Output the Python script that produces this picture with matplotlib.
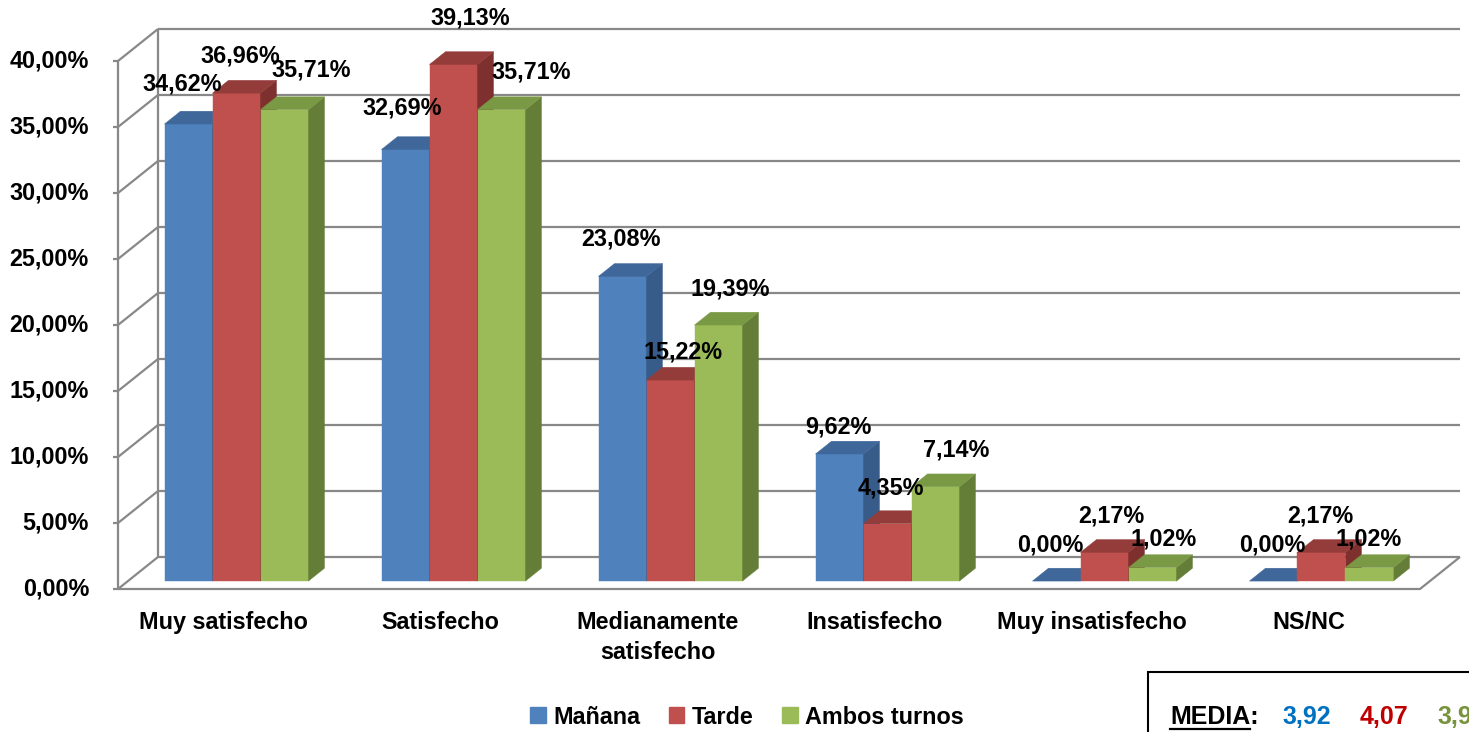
import matplotlib.pyplot as plt
from matplotlib.patches import Polygon, Rectangle, Patch
from matplotlib.lines import Line2D

plt.rcParams['font.family'] = ['Liberation Sans', 'DejaVu Sans']
plt.rcParams['font.weight'] = 'bold'

# data
categories = ["Muy satisfecho", "Satisfecho", "Medianamente\nsatisfecho",
              "Insatisfecho", "Muy insatisfecho", "NS/NC"]
series = ["Mañana", "Tarde", "Ambos turnos"]
manana = [34.62, 32.69, 23.08, 9.62, 0.00, 0.00]
tarde = [36.96, 39.13, 15.22, 4.35, 2.17, 2.17]
ambos = [35.71, 35.71, 19.39, 7.14, 1.02, 1.02]
yticks = [0, 5, 10, 15, 20, 25, 30, 35, 40]
media_values = ["3,92", "4,07", "3,9"]

# look
front_cols = ['#4F81BD', '#C0504D', '#9BBB59']
top_cols = ['#40679A', '#933C3A', '#7A9944']
side_cols = ['#375C8A', '#7E302E', '#657E37']
media_cols = ['#0070C0', '#C00000', '#77933C']
grid_col = '#888888'
fs = 16.8

# label offsets (pixels) from the top of each bar, per group: blue, red, green
label_offsets = [
    [(-6, 40), (4, 37), (27, 40)],
    [(-3, 41), (17, 46), (30, 38)],
    [(-2, 37), (13, 28), (12, 36)],
    [(-1, 27), (3, 36), (21, 37)],
    [(-6, 36), (7, 36), (11, 29)],
    [(-1, 36), (-1, 36), (-1, 29)],
]

W, H = 1469, 732
PX, PY = 217.0, 13.2        # pixels per category / per percent
X0, Y0 = 226.5, 589.0       # pixel of (0, 0) on the front plane

fig = plt.figure(figsize=(W / 100, H / 100), dpi=100)
ax = fig.add_axes([0, 0, 1, 1])
ax.set_xlim(-X0 / PX, (W - X0) / PX)
ax.set_ylim(-(H - Y0) / PY, Y0 / PY)
ax.axis('off')

ddx, ddy = 40 / PX, 32 / PY   # full depth of the box
left, right = -0.5, len(categories) - 0.5

# walls / grid
kw = dict(color=grid_col, lw=1.6, zorder=1, solid_capstyle='butt')
for t in yticks:
    ax.plot([left, left + ddx], [t, t + ddy], **kw)
    ax.plot([left + ddx, right + ddx], [t + ddy, t + ddy], **kw)
    ax.plot([left - 5 / PX, left], [t, t], **kw)
    ax.text(left - 29 / PX, t, f"{t:.2f}%".replace('.', ','), ha='right',
            va='center', fontsize=fs)
ax.plot([left, left], [0, yticks[-1]], **kw)
ax.plot([left + ddx, left + ddx], [ddy, yticks[-1] + ddy], **kw)
ax.plot([left, right, right + ddx], [0, 0, ddy], **kw)

# bars
w = 48 / PX
f0, f1 = 0.25, 0.65
bdx, bdy = (f1 - f0) * ddx, (f1 - f0) * ddy
values = [manana, tarde, ambos]
for g in range(len(categories)):
    for s in range(3):
        v = values[s][g]
        x0 = g - 1.5 * w + s * w + f0 * ddx
        y0 = f0 * ddy
        z = 2 + g * 3 + s
        ax.add_patch(Rectangle((x0, y0), w, v, facecolor=front_cols[s],
                               edgecolor=front_cols[s], lw=0.3, zorder=z))
        ax.add_patch(Polygon([(x0 + w, y0), (x0 + w + bdx, y0 + bdy),
                              (x0 + w + bdx, y0 + v + bdy), (x0 + w, y0 + v)],
                             facecolor=side_cols[s], edgecolor=side_cols[s],
                             lw=0.3, zorder=z))
        ax.add_patch(Polygon([(x0, y0 + v), (x0 + w, y0 + v),
                              (x0 + w + bdx, y0 + v + bdy), (x0 + bdx, y0 + v + bdy)],
                             facecolor=top_cols[s], edgecolor=top_cols[s],
                             lw=0.3, zorder=z))
        ox, oy = label_offsets[g][s]
        ax.annotate(f"{v:.2f}%".replace('.', ','), xy=(x0 + w / 2, y0 + v),
                    xytext=(ox, oy), textcoords='offset pixels', ha='center',
                    va='center', fontsize=fs, zorder=50)

# category labels
for g, c in enumerate(categories):
    ax.text(g - 3 / PX, -22 / PY, c, ha='center', va='top', fontsize=fs,
            linespacing=1.4)

# legend
handles = [Patch(facecolor=c, edgecolor=c) for c in front_cols]
fig.legend(handles, series, loc='center', bbox_to_anchor=(747 / W, 1 - 717 / H),
           ncol=3, frameon=False, fontsize=fs, handlelength=0.66,
           handleheight=0.66, handletextpad=0.3, columnspacing=1.25)

# MEDIA box
fig.add_artist(Rectangle((1148 / W, -0.1), 0.5, 0.1 + (H - 672) / H,
                         transform=fig.transFigure, fill=False,
                         edgecolor='black', lw=1.5))
fig.text(1170 / W, 1 - 717 / H, "MEDIA:", ha='left', va='center', fontsize=18)
fig.add_artist(Line2D([1170 / W, 1250 / W], [1 - 729 / H] * 2,
                      transform=fig.transFigure, color='black', lw=1.6))
for xpos, txt, col in zip([1282, 1360, 1437], media_values, media_cols):
    fig.text(xpos / W, 1 - 717 / H, txt, ha='left', va='center',
             fontsize=18, color=col)

fig.savefig('out.png', dpi=100)
